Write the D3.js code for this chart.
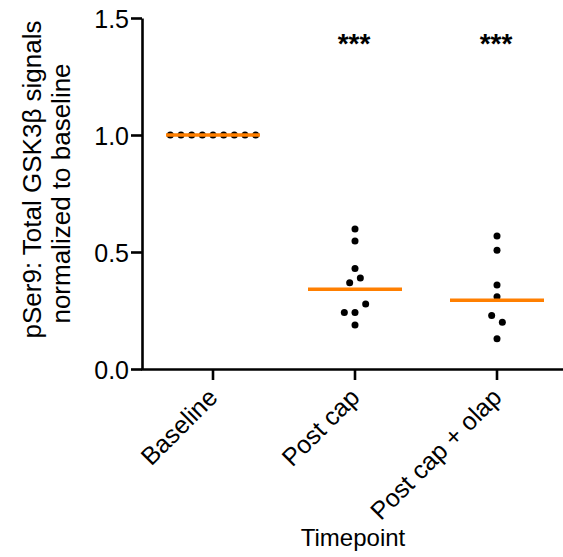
<!DOCTYPE html>
<meta http-equiv="Content-type" content="text/html; charset=UTF-8"/>
<style>
  body { margin: 0; background: #fff; }
  * { font-family: 'Liberation Sans', Arial, sans-serif; }
</style>
<svg width="563" height="557"></svg>
<script src="https://d3js.org/d3.v7.min.js"></script>
<script>
var groups = ["Baseline", "Post cap", "Post cap + olap"];
var baseline = [1, 1, 1, 1, 1, 1, 1, 1, 1];
var postCap = [0.598, 0.547, 0.429, 0.369, 0.389, 0.241, 0.241, 0.278, 0.188];
var postCapOlap = [0.568, 0.507, 0.359, 0.309, 0.229, 0.200, 0.129];
var means = [1.0, 0.341, 0.294];
var stars = ["", "***", "***"];
var yTicks = [0, 0.5, 1.0, 1.5];

var series = [baseline, postCap, postCapOlap];

var svg = d3.select("svg");

var x = d3.scaleBand()
    .domain(groups)
    .range([142, 568]);

var y = d3.scaleLinear()
    .domain([0, 1.5])
    .range([369, 18]);

var r = 3.5, step = 10.67, rowGap = 9;

// simple row-based scatter: points close in y share a row and spread sideways
function spread(vals) {
  var idx = vals.map(function(v, i) { return i; })
    .sort(function(a, b) { return y(vals[a]) - y(vals[b]); });
  var off = new Array(vals.length), row = [];
  function flush() {
    row.sort(function(a, b) { return a - b; });
    row.forEach(function(k, j) { off[k] = (j - (row.length - 1) / 2) * step; });
    row = [];
  }
  idx.forEach(function(i) {
    if (row.length && y(vals[i]) - y(vals[row[0]]) > rowGap) flush();
    row.push(i);
  });
  flush();
  return off;
}

// axes
var xAxis = svg.append("g")
    .attr("transform", "translate(0," + y(0) + ")")
    .call(d3.axisBottom(x).tickSizeInner(11).tickSizeOuter(0).tickFormat(""));

var yAxis = svg.append("g")
    .attr("transform", "translate(" + x.range()[0] + ",0)")
    .call(d3.axisLeft(y).tickValues(yTicks).tickSizeInner(11).tickSizeOuter(0)
      .tickFormat(d3.format(".1f")));

[xAxis, yAxis].forEach(function(a) {
  a.selectAll("path, line").attr("stroke", "#000").attr("stroke-width", 2.6);
});
xAxis.select(".domain").attr("stroke-linecap", "square");

yAxis.selectAll("text")
    .attr("x", -13)
    .attr("dy", "0.36em")
    .attr("fill", "#000")
    .style("font-size", "25px");

// rotated category labels
svg.append("g").selectAll("text")
    .data(groups)
  .enter().append("text")
    .attr("transform", function(d) {
      return "translate(" + (x(d) + x.bandwidth() / 2 + 6) + "," + (y(0) + 30) + ") rotate(-45)";
    })
    .attr("text-anchor", "end")
    .style("font-size", "25px")
    .text(function(d) { return d; });

// dots
series.forEach(function(vals, gi) {
  var cx = x(groups[gi]) + x.bandwidth() / 2;
  var off = spread(vals);
  svg.append("g").selectAll("circle")
      .data(vals)
    .enter().append("circle")
      .attr("cx", function(d, i) { return cx + off[i]; })
      .attr("cy", function(d) { return y(d); })
      .attr("r", r)
      .attr("fill", "#000");
});

// mean lines
svg.append("g").selectAll("line")
    .data(means)
  .enter().append("line")
    .attr("x1", function(d, i) { return x(groups[i]) + x.bandwidth() / 2 - 47; })
    .attr("x2", function(d, i) { return x(groups[i]) + x.bandwidth() / 2 + 47; })
    .attr("y1", function(d) { return y(d); })
    .attr("y2", function(d) { return y(d); })
    .attr("stroke", "#ff7f00")
    .attr("stroke-width", 3.5);

// significance stars
svg.append("g").selectAll("text")
    .data(stars)
  .enter().append("text")
    .attr("x", function(d, i) { return x(groups[i]) + x.bandwidth() / 2 - 1; })
    .attr("y", 53)
    .attr("text-anchor", "middle")
    .style("font-size", "28px")
    .style("font-weight", "bold")
    .text(function(d) { return d; });

// axis titles
var yLabel = svg.append("text")
    .attr("transform", "translate(0," + ((y(0) + y(1.5)) / 2) + ") rotate(-90)")
    .attr("text-anchor", "middle")
    .style("font-size", "26px");
yLabel.append("tspan").attr("x", 14).attr("y", 41).text("pSer9: Total GSK3β signals");
yLabel.append("tspan").attr("x", 0).attr("y", 70).text("normalized to baseline");

svg.append("text")
    .attr("x", 353)
    .attr("y", 546)
    .attr("text-anchor", "middle")
    .style("font-size", "24px")
    .text("Timepoint");
</script>
